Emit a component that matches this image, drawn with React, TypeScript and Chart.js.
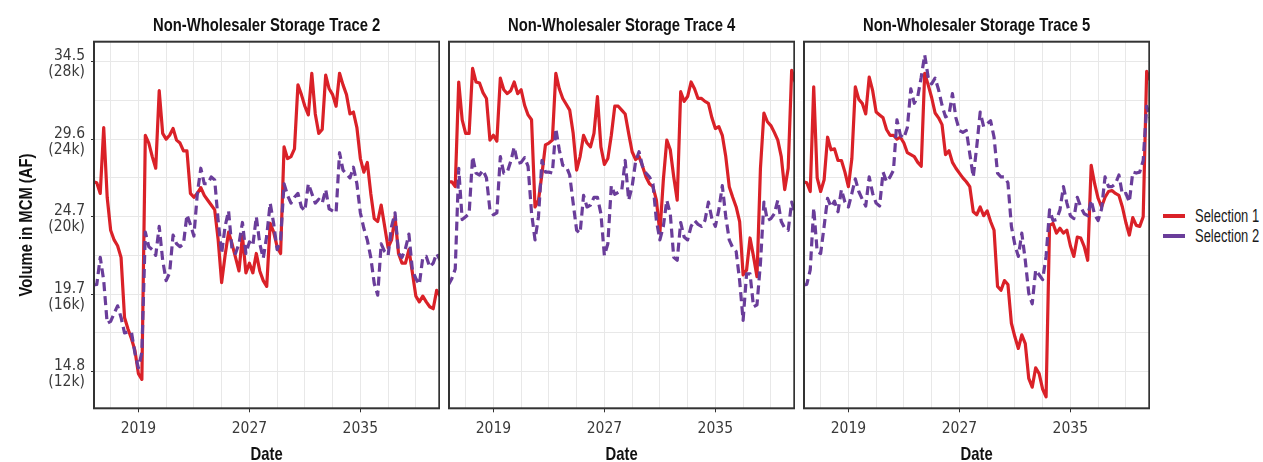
import React, { useEffect, useRef } from 'react';
import { Chart, registerables } from 'chart.js';

Chart.register(...registerables);

const TICK_FONT = "'DejaVu Sans Condensed', 'Liberation Sans Narrow', sans-serif";
const TITLE_FONT = "'Liberation Sans', Arial, sans-serif";
const NARROW = 0.78; // horizontal squeeze to mimic a condensed face

// Quarterly time axis (decimal years)
const quarterDates: number[] = Array.from({ length: 101 }, (_, i) => 2015.75 + i * 0.25);

const panelTitles = [
  'Non-Wholesaler Storage Trace 2',
  'Non-Wholesaler Storage Trace 4',
  'Non-Wholesaler Storage Trace 5',
];
const xAxisTitle = 'Date';
const yAxisTitle = 'Volume in MCM (AF)';
const seriesNames = ['Selection 1', 'Selection 2'];
const seriesColors = ['#DA2128', '#6A3D9A'];

const xGridYears = [2017, 2019, 2021, 2023, 2025, 2027, 2029, 2031, 2033, 2035, 2037, 2039];
const xTickLabels = [2019, 2027, 2035];

const yGridKaf = [12, 14, 16, 18, 20, 22, 24, 26, 28];
const yTickKaf = [12, 16, 20, 24, 28];
const yTickMcm = ['14.8', '19.7', '24.7', '29.6', '34.5'];
const yTickAf = ['(12k)', '(16k)', '(20k)', '(24k)', '(28k)'];

// Storage, thousand acre-feet (kAF)
const trace2Sel1 = [
  21.8, 21.75, 21.2, 24.6, 21.0, 19.3, 18.8, 18.5, 17.9, 14.8,
  14.2, 13.7, 13.1, 11.9, 11.6, 24.2, 23.8, 23.1, 22.5, 26.5,
  24.3, 24.0, 24.2, 24.55, 23.95, 23.8, 23.4, 23.4, 21.2, 21.0,
  21.2, 21.5, 21.1, 20.85, 20.6, 20.35, 18.8, 16.6, 18.0, 19.2,
  18.6, 17.9, 17.2, 19.0, 17.1, 17.6, 17.1, 18.1, 17.2, 16.7,
  16.4, 19.65, 19.2, 18.45, 18.1, 23.6, 23.0, 23.1, 23.5, 26.8,
  26.3, 25.7, 25.25, 27.4, 25.3, 24.3, 24.5, 27.3, 26.6, 26.3,
  25.7, 27.4, 26.8, 26.3, 25.3, 25.4, 24.6, 23.0, 22.3, 22.8,
  21.2, 19.9, 19.75, 20.6, 19.5, 18.4, 18.8, 20.0, 18.1, 17.6,
  17.6, 18.3, 17.1, 15.9, 15.6, 15.9, 15.6, 15.35, 15.25, 16.2, 15.9,
];
const trace2Sel2 = [
  16.47, 16.5, 17.9, 16.7, 14.5, 14.6, 15.0, 15.4, 14.8, 14.0,
  14.05, 14.05, 12.95, 12.2, 13.0, 19.2, 18.45, 18.3, 18.0, 19.5,
  17.75, 16.7, 17.1, 19.05, 18.6, 18.45, 18.6, 20.1, 19.6, 19.0,
  21.2, 22.5, 21.7, 21.7, 22.05, 21.9, 19.8, 18.1, 19.5, 20.3,
  18.3, 18.1, 18.6, 19.7, 18.1, 18.7, 18.5, 20.0, 18.6, 17.85,
  19.0, 20.7, 19.65, 18.3, 18.8, 21.7, 21.1, 20.7, 21.0, 21.2,
  20.5, 20.3, 21.7, 21.2, 20.7, 20.9, 20.7, 21.4, 20.4, 20.3,
  20.2, 23.3, 22.4, 22.2, 22.0, 22.55, 21.7, 20.2, 19.4, 18.8,
  17.9, 16.55, 15.95, 18.6, 18.2, 18.0, 19.5, 20.2, 18.1, 17.9,
  18.35, 19.1, 17.25, 16.8, 16.5, 17.9, 17.95, 17.4, 17.6, 18.1, 17.75,
];
const trace4Sel1 = [
  21.8, 21.8, 21.55, 26.95, 25.0, 24.3, 24.3, 27.65, 26.95, 26.9,
  26.4, 26.1, 23.95, 24.2, 23.9, 27.15, 26.55, 26.35, 26.5, 26.95,
  26.35, 26.55, 25.75, 25.25, 25.0, 20.5, 20.85, 22.2, 23.7, 23.8,
  23.95, 27.4, 26.6, 26.1, 25.8, 25.5, 24.3, 22.4, 23.1, 24.2,
  23.8, 23.6, 24.3, 26.2, 23.6, 22.7, 23.0, 24.2, 25.7, 25.7,
  25.5, 25.3, 24.3, 23.35, 22.95, 23.1, 22.6, 22.05, 21.7, 21.55,
  20.85, 19.15, 21.9, 23.95, 23.45, 22.05, 20.85, 26.45, 25.95, 26.2,
  26.95, 26.6, 26.1, 26.1, 25.95, 25.85, 25.1, 24.55, 24.65, 24.2,
  23.1, 21.55, 21.0, 20.5, 19.75, 17.0, 17.25, 18.9, 17.95, 16.9,
  22.5, 25.35, 24.9, 24.7, 24.35, 23.95, 23.1, 21.4, 22.5, 27.55, 26.95,
];
const trace4Sel2 = [
  16.47, 16.8, 17.3, 22.5, 19.85, 20.0, 20.15, 23.1, 22.25, 22.15,
  22.4, 22.0, 20.35, 20.1, 20.2, 23.1, 22.25, 22.3, 22.85, 23.6,
  22.75, 22.8, 23.05, 22.6, 20.2, 18.8, 20.0, 22.9, 22.3, 22.3,
  22.25, 24.55, 23.45, 22.65, 22.6, 22.15, 20.7, 19.3, 19.15, 21.1,
  20.5, 20.6, 21.0, 21.0, 20.15, 18.0, 18.6, 21.6, 21.15, 21.25,
  21.35, 22.9, 20.85, 21.55, 22.85, 23.35, 22.6, 22.25, 22.05, 21.7,
  19.8, 18.8, 19.5, 20.85, 20.15, 17.9, 17.75, 19.7, 18.95, 18.8,
  19.5, 19.8, 19.6, 19.5, 19.8, 20.75, 19.9, 19.5, 20.35, 21.6,
  20.0, 18.8, 18.4, 18.2, 16.7, 14.65, 17.05, 17.05, 15.35, 15.45,
  17.6, 20.75, 19.8, 19.9, 20.15, 20.85, 19.75, 19.4, 19.3, 20.75, 20.15,
];
const trace5Sel1 = [
  21.8, 21.75, 21.3, 26.7, 22.0, 21.3, 21.9, 24.1, 23.45, 23.5,
  22.9, 22.9, 22.3, 21.55, 23.0, 26.7, 26.05, 25.85, 25.3, 27.2,
  26.5, 25.4, 25.25, 25.1, 24.5, 24.2, 24.2, 24.0, 24.1, 23.8,
  23.3, 23.2, 23.1, 22.8, 22.6, 27.4, 26.8, 26.15, 25.35, 25.1,
  24.75, 23.2, 23.4, 22.8, 22.5, 22.25, 22.0, 21.8, 21.55, 20.25,
  20.1, 20.5, 20.05, 20.3, 19.75, 19.3, 16.4, 16.2, 16.7, 16.5,
  14.5, 13.8, 13.2, 13.9, 13.45, 11.65, 11.2, 12.2, 11.9, 11.1,
  10.7, 19.55, 19.65, 19.15, 19.4, 19.15, 19.3, 18.5, 17.95, 18.95,
  18.9, 18.45, 17.75, 22.65, 21.7, 20.95, 20.5, 21.0, 21.3, 21.35,
  21.2, 21.1, 20.5, 19.7, 19.05, 19.95, 19.55, 19.5, 20.0, 27.5, 27.05,
];
const trace5Sel2 = [
  16.47, 16.5, 17.25, 20.45, 18.2, 18.1, 19.5, 20.95, 20.5, 20.8,
  20.25, 21.4, 20.75, 20.5, 21.2, 21.95, 21.3, 20.9, 20.55, 22.05,
  21.2, 20.7, 20.55, 22.3, 21.8, 22.05, 22.4, 25.0, 24.2, 24.05,
  24.6, 26.6, 25.85, 26.2, 27.2, 28.35, 27.2, 26.85, 27.15, 26.55,
  25.75, 25.15, 25.25, 26.35, 25.1, 24.45, 24.35, 24.45, 23.25, 22.05,
  23.6, 25.4, 24.65, 24.8, 24.95, 24.1, 22.25, 22.05, 22.05, 21.75,
  19.5, 18.55, 17.95, 19.15, 17.75, 16.05, 15.5, 17.25, 17.0, 16.75,
  17.95, 20.35, 19.8, 19.85, 20.35, 21.55, 20.7, 20.05, 19.9, 21.0,
  20.5, 20.15, 20.05, 20.85, 20.1, 19.8, 20.4, 22.05, 21.55, 21.55,
  21.7, 22.15, 21.15, 21.2, 20.75, 22.3, 22.25, 22.3, 22.9, 25.7, 25.1,
];

const panelSeries = [
  [trace2Sel1, trace2Sel2],
  [trace4Sel1, trace4Sel2],
  [trace5Sel1, trace5Sel2],
];

// layout (px)
const panelLeft = [0, 445, 800];
const panelWidth = [440, 350, 350];
const CANVAS_H = 462;

function squeezedText(ctx: any, text: string, x: number, y: number, rotate: number) {
  ctx.save();
  ctx.translate(x, y);
  if (rotate) ctx.rotate(rotate);
  ctx.scale(NARROW, 1);
  ctx.fillText(text, 0, 0);
  ctx.restore();
}

const framePlugin = {
  id: 'panelFrame',
  afterDraw(chart: any, _args: any, opts: any) {
    const { ctx, chartArea: a } = chart;
    ctx.save();
    ctx.strokeStyle = '#333333';
    ctx.lineWidth = 2;
    ctx.strokeRect(a.left, a.top, a.right - a.left, a.bottom - a.top);
    ctx.fillStyle = '#111111';
    ctx.font = `bold 19px ${TITLE_FONT}`;
    ctx.textAlign = 'center';
    ctx.textBaseline = 'alphabetic';
    const cx = (a.left + a.right) / 2;
    squeezedText(ctx, opts.title, cx, 30.7, 0);
    squeezedText(ctx, xAxisTitle, cx, 460, 0);
    if (opts.yTitle) {
      squeezedText(ctx, yAxisTitle, 31.5, (a.top + a.bottom) / 2, -Math.PI / 2);
    }
    ctx.restore();
  },
};

function Panel({ index }: { index: number }) {
  const ref = useRef<HTMLCanvasElement | null>(null);
  useEffect(() => {
    if (!ref.current) return;
    const isFirst = index === 0;
    const [s1, s2] = panelSeries[index];
    const chart = new Chart(ref.current, {
      type: 'line',
      data: {
        datasets: [
          {
            label: seriesNames[0],
            data: quarterDates.map((d, i) => ({ x: d, y: s1[i] })),
            borderColor: seriesColors[0],
            borderWidth: 3.2,
            pointRadius: 0,
            tension: 0,
            borderJoinStyle: 'round',
            order: 2,
          },
          {
            label: seriesNames[1],
            data: quarterDates.map((d, i) => ({ x: d, y: s2[i] })),
            borderColor: seriesColors[1],
            borderWidth: 3.2,
            borderDash: [9, 5],
            pointRadius: 0,
            tension: 0,
            borderJoinStyle: 'round',
            order: 1,
          },
        ],
      },
      options: {
        responsive: false,
        animation: false,
        events: [],
        layout: { padding: { top: 41.7, left: isFirst ? 0 : 4, right: 0.7, bottom: 0 } },
        plugins: {
          legend: { display: false },
          tooltip: { enabled: false },
          title: { display: false },
          // @ts-ignore
          panelFrame: { title: panelTitles[index], yTitle: isFirst },
        },
        scales: {
          x: {
            type: 'linear',
            min: 2015.8,
            max: 2040.69,
            afterBuildTicks: (s: any) => {
              s.ticks = xGridYears.map((v) => ({ value: v }));
            },
            afterFit: (s: any) => {
              s.height = 53.7;
            },
            ticks: {
              autoSkip: false,
              maxRotation: 0,
              minRotation: 0,
              padding: 7,
              color: '#3a3a3a',
              font: { family: TICK_FONT, size: 15.5, lineHeight: 1.2 },
              callback: (v: any) => (xTickLabels.includes(Number(v)) ? String(v) : ''),
            },
            grid: {
              color: '#E8E8E8',
              lineWidth: 1,
              tickLength: 4,
              tickWidth: 1,
              tickColor: (c: any) => (c.tick && xTickLabels.includes(c.tick.value) ? '#333333' : 'rgba(0,0,0,0)'),
            },
            border: { display: false },
            title: { display: false },
          },
          y: {
            type: 'linear',
            min: 10.11,
            max: 29.03,
            afterBuildTicks: (s: any) => {
              s.ticks = yGridKaf.map((v) => ({ value: v }));
            },
            afterFit: (s: any) => {
              s.width = isFirst ? 94 : 0;
            },
            ticks: {
              display: isFirst,
              autoSkip: false,
              padding: 6,
              labelOffset: 2.5,
              color: '#3a3a3a',
              font: { family: TICK_FONT, size: 15.5, lineHeight: 1.02 },
              callback: (v: any) => {
                const i = yTickKaf.indexOf(Number(v));
                return i >= 0 ? [yTickMcm[i], yTickAf[i]] : '';
              },
            },
            grid: {
              color: '#E8E8E8',
              lineWidth: 1,
              drawTicks: isFirst,
              tickLength: 3,
              tickWidth: 1,
              tickColor: (c: any) => (c.tick && yTickKaf.includes(c.tick.value) ? '#333333' : 'rgba(0,0,0,0)'),
            },
            border: { display: false },
            title: { display: false },
          },
        },
      } as any,
      plugins: [framePlugin as any],
    });
    return () => chart.destroy();
  }, [index]);

  return (
    <div style={{ position: 'absolute', left: panelLeft[index], top: 0, width: panelWidth[index], height: CANVAS_H }}>
      <canvas ref={ref} width={panelWidth[index]} height={CANVAS_H} style={{ display: 'block' }} />
    </div>
  );
}

function Legend() {
  const rows = [0, 1];
  return (
    <div style={{ position: 'absolute', left: 1163, top: 206, width: 100 }}>
      {rows.map((i) => (
        <div key={i} style={{ position: 'absolute', left: 0, top: i * 20, height: 20, width: 100 }}>
          <div style={{ position: 'absolute', left: 0, top: 8, width: 22, height: 4, background: seriesColors[i] }} />
          <div
            style={{
              position: 'absolute',
              left: 32,
              top: 0,
              height: 20,
              lineHeight: '20px',
              fontFamily: TITLE_FONT,
              fontSize: 18,
              color: '#1a1a1a',
              whiteSpace: 'nowrap',
              transform: 'scaleX(0.72)',
              transformOrigin: 'left center',
            }}
          >
            {seriesNames[i]}
          </div>
        </div>
      ))}
    </div>
  );
}

export default function App() {
  return (
    <div style={{ position: 'absolute', left: 0, top: 0, width: 1263, height: 462, background: '#ffffff', overflow: 'hidden' }}>
      {[0, 1, 2].map((i) => (
        <Panel key={i} index={i} />
      ))}
      <Legend />
    </div>
  );
}
